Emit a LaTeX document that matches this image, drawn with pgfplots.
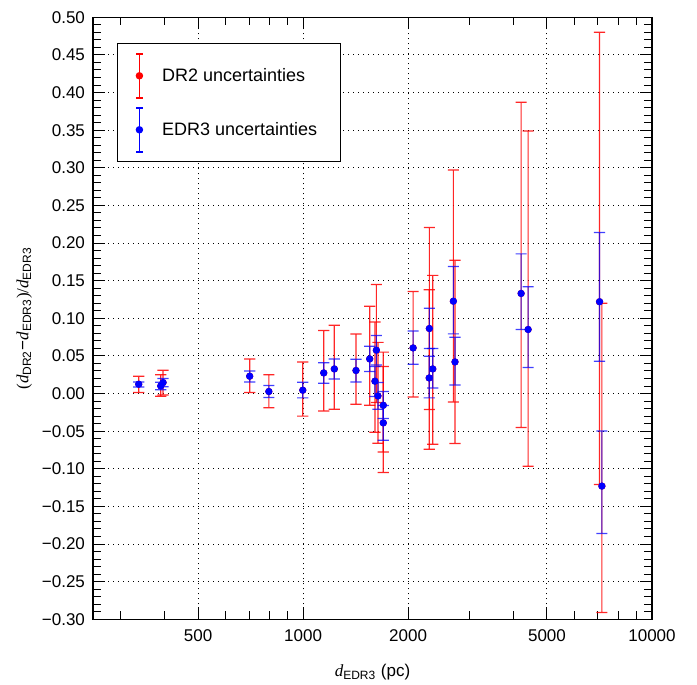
\documentclass[border=0pt]{standalone}
\usepackage{fontspec}
\setmainfont{Liberation Sans}
\newfontfamily\timesfont{Liberation Serif}
\usepackage{pgfplots}
\pgfplotsset{compat=1.18}
\usepackage{pgfplotstable}

% central values (same for both releases)
\pgfplotstableread{
x     y
338   0.0124
391   0.0101
397   0.0146
703   0.0230
798   0.0027
998   0.0044
1146  0.0274
1229  0.0327
1418  0.0306
1552  0.0460
1622  0.0576
1607  0.0164
1639  -0.0032
1698  -0.0156
1698  -0.0390
2067  0.0606
2301  0.0864
2298  0.0207
2353  0.0327
2696  0.1227
2725  0.0420
4216  0.1330
4415  0.0851
7075  0.1220
7184  -0.1230
}\points

% DR2 uncertainty ranges
\pgfplotstableread{
x     lo       hi
338   0.0013   0.023
391   -0.0036  0.025
397   -0.002   0.031
703   0.0013   0.046
798   -0.019   0.025
998   -0.030   0.042
1146  -0.0231  0.0838
1229  -0.0209  0.0908
1418  -0.0142  0.079
1552  -0.0156  0.116
1622  -0.012   0.145
1607  -0.0515  0.095
1639  -0.066   0.068
1698  -0.0777  0.055
1698  -0.105   0.036
2067  -0.0045  0.1356
2301  -0.0213  0.2207
2298  -0.074   0.138
2353  -0.0674  0.157
2696  -0.0112  0.297
2725  -0.0665  0.177
4216  -0.0452  0.387
4415  -0.0967  0.349
7075  -0.121   0.480
7184  -0.291   0.120
}\drtwo

% EDR3 uncertainty ranges
\pgfplotstableread{
x     lo       hi
338   0.0088   0.0154
391   0.005    0.015
397   0.009    0.020
703   0.0154   0.030
798   -0.0053  0.0106
998   -0.0058  0.015
1146  0.0137   0.041
1229  0.0194   0.046
1418  0.0154   0.0456
1552  0.0293   0.0629
1622  0.038    0.077
1607  -0.004   0.036
1639  -0.0209  0.0146
1698  -0.0332  0.0027
1698  -0.062   -0.016
2067  0.039    0.083
2301  0.0598   0.1134
2298  -0.0058  0.0496
2353  0.0074   0.0598
2696  0.0793   0.1689
2725  0.0114   0.0749
4216  0.0851   0.1856
4415  0.0346   0.1418
7075  0.043    0.214
7184  -0.186   -0.0497
}\edrthree

\newcommand{\dd}{{\timesfont\itshape d}}
\newcommand{\sub}[1]{\textsubscript{\fontsize{6}{6}\selectfont #1}}

% vertical bar with caps, drawn upward from the low end; \barlen in pt
\pgfdeclareplotmark{ebar}{%
  \pgfpathrectangle{\pgfpoint{-0.3pt}{0pt}}{\pgfpoint{0.6pt}{\barlen pt}}%
  \pgfpathrectangle{\pgfpoint{-2.8pt}{-0.3pt}}{\pgfpoint{5.6pt}{0.6pt}}%
  \pgfpathrectangle{\pgfpoint{-2.8pt}{\barlen pt-0.3pt}}{\pgfpoint{5.6pt}{0.6pt}}%
  \pgfusepathqfill}

\pgfplotsset{
  errleg/.style={legend image code/.code={
    \fill[#1] (-0.2pt,-11pt) rectangle (0.2pt,11pt);
    \fill[#1] (-1.3pt,-11.2pt) rectangle (1.3pt,-10.8pt);
    \fill[#1] (-1.3pt,10.8pt) rectangle (1.3pt,11.2pt);
    \fill[#1] (0pt,0pt) circle (1.6pt);
  }},
  bars/.style 2 args={scatter, only marks, mark=ebar,
    scatter/use mapped color={fill=#1, draw=none, fill opacity=#2},
    visualization depends on={(\thisrow{hi}-\thisrow{lo})*376.25 \as \barlen},
    forget plot},
  dots/.style={color=#1, only marks, mark=*, mark size=1.6pt, forget plot},
}

\begin{document}
\fontsize{8.5}{10}\selectfont
\begin{tikzpicture}
\begin{axis}[
  name=ax,
  scale only axis,
  width=279.5pt, height=301pt,
  xmode=log, xmin=250, xmax=10000,
  ymin=-0.3, ymax=0.5,
  xtick={500,1000,2000,5000,10000},
  xticklabels={500,1000,2000,5000,10000},
  minor xtick={300,400,600,700,800,900,3000,4000,6000,7000,8000,9000},
  ytick={-0.3,-0.25,-0.2,-0.15,-0.1,-0.05,0,0.05,0.1,0.15,0.2,0.25,0.3,0.35,0.4,0.45,0.5},
  yticklabels={−0.30,−0.25,−0.20,−0.15,−0.10,−0.05,0.00,0.05,0.10,0.15,0.20,0.25,0.30,0.35,0.40,0.45,0.50},
  minor y tick num=4,
  xtick pos=both, ytick pos=both,
  tick align=inside,
  major tick length=6pt, minor tick length=4pt,
  tick style={black, line width=0.5pt},
  axis line style={black, line width=0.6pt},
  grid=major,
  major grid style={black, line width=0.5pt, dash pattern=on 0.5pt off 2pt},
  xticklabel style={yshift=-2pt},
  yticklabel style={xshift=-1pt},
  xlabel={\dd\sub{EDR3} (pc)},
  ylabel={{\timesfont(}\dd\sub{DR2}−\dd\sub{EDR3}{\timesfont)/}\dd\sub{EDR3}},
  every axis x label/.style={at={(axis description cs:0.5,-0.088)}, anchor=center},
  every axis y label/.style={at={(axis description cs:-0.123,0.5)}, rotate=90, anchor=center},
  legend style={at={(axis description cs:0.0433,0.9568)}, anchor=north west,
    draw=black, line width=0.5pt, fill=white, inner xsep=9pt, inner ysep=2.5pt,
    /tikz/column sep=9.5pt,
    nodes={inner sep=0pt, text height=16.5pt, text depth=10.5pt,
      font=\fontsize{9}{10}\selectfont}},
  legend cell align=left,
]
\addplot[bars={red}{0.85}] table[x=x, y=lo]{\drtwo};
\addplot[dots=red] table[x=x, y=y]{\points};
\addplot[bars={blue}{0.75}] table[x=x, y=lo]{\edrthree};
\addplot[dots=blue] table[x=x, y=y]{\points};
\addlegendimage{errleg=red}
\addlegendentry{\makebox[80pt][l]{DR2 uncertainties}}
\addlegendimage{errleg=blue}
\addlegendentry{\makebox[80pt][l]{EDR3 uncertainties}}
\end{axis}
\pgfresetboundingbox
\useasboundingbox ([shift={(-46.5pt,-32.5pt)}]ax.south west) rectangle ([shift={(22.5pt,8.65pt)}]ax.north east);
\end{tikzpicture}
\end{document}
